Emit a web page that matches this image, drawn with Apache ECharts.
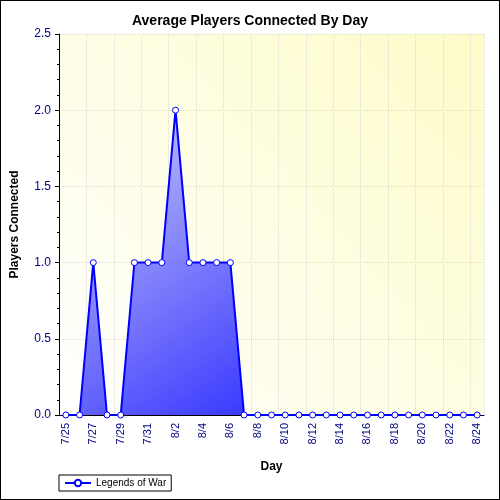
<!DOCTYPE html>
<html>
<head>
<meta charset="utf-8">
<script src="https://cdn.jsdelivr.net/npm/echarts@6/dist/echarts.min.js"></script>
<style>
html,body{margin:0;padding:0;background:#fff}
#c{width:498px;height:498px;border:1px solid #000}
</style>
</head>
<body>
<div id="c"></div>
<script>
var days = ['7/25','7/26','7/27','7/28','7/29','7/30','7/31','8/1','8/2','8/3','8/4','8/5','8/6','8/7',
  '8/8','8/9','8/10','8/11','8/12','8/13','8/14','8/15','8/16','8/17','8/18','8/19','8/20','8/21','8/22','8/23','8/24'];
var players = [0,0,1,0,0,1,1,1,2,1,1,1,1,0,0,0,0,0,0,0,0,0,0,0,0,0,0,0,0,0,0];
var yTicks = [0, 0.5, 1, 1.5, 2, 2.5];

var chart = echarts.init(document.getElementById('c'));
chart.setOption({
  animation: false,
  title: {
    text: 'Average Players Connected By Day', left: 'center', top: 8,
    textStyle: {fontFamily: 'Arial, Liberation Sans', fontSize: 14, fontWeight: 'bold', color: '#000'}
  },
  grid: {
    left: 56, right: 15, top: 33, bottom: 84,
    show: true, borderWidth: 0,
    backgroundColor: new echarts.graphic.LinearGradient(0, 1, 1, 0, [
      {offset: 0, color: '#ffffff'}, {offset: 1, color: '#fdfcc8'}])
  },
  legend: {
    left: 58, bottom: 8, itemWidth: 26, itemHeight: 8,
    borderColor: '#000', borderWidth: 1, borderRadius: 0, padding: [3, 5],
    textStyle: {fontFamily: 'Arial, Liberation Sans', fontSize: 10, color: '#000'},
    data: ['Legends of War']
  },
  xAxis: {
    type: 'category', data: days, boundaryGap: true,
    name: 'Day', nameLocation: 'middle', nameGap: 46,
    nameTextStyle: {fontFamily: 'Arial, Liberation Sans', fontSize: 12, fontWeight: 'bold', color: '#000'},
    axisLine: {lineStyle: {color: '#000'}},
    axisTick: {alignWithLabel: true, interval: 0, length: 3, lineStyle: {color: '#000'}},
    axisLabel: {interval: 1, rotate: 90, color: '#000080', fontFamily: 'Arial, Liberation Sans', fontSize: 11},
    splitLine: {show: true, interval: 1, lineStyle: {color: '#dcdcdc', type: 'dotted'}}
  },
  yAxis: {
    type: 'value', min: 0, max: 2.5, interval: 0.5,
    name: 'Players Connected', nameLocation: 'middle', nameGap: 38,
    nameTextStyle: {fontFamily: 'Arial, Liberation Sans', fontSize: 12, fontWeight: 'bold', color: '#000'},
    axisLine: {show: true, lineStyle: {color: '#000'}},
    axisTick: {show: true, length: 4, lineStyle: {color: '#000'}},
    minorTick: {show: true, splitNumber: 5, length: 2, lineStyle: {color: '#000'}},
    axisLabel: {color: '#000080', fontFamily: 'Arial, Liberation Sans', fontSize: 12,
      formatter: function (v) { return yTicks.indexOf(v) >= 0 ? v.toFixed(1) : ''; }},
    splitLine: {lineStyle: {color: '#dcdcdc', type: 'dotted'}}
  },
  series: [{
    name: 'Legends of War', type: 'line', data: players,
    symbol: 'circle', symbolSize: 6, showAllSymbol: true,
    lineStyle: {color: '#0000ff', width: 2},
    itemStyle: {color: '#ffffff', borderColor: '#0000ff', borderWidth: 1},
    areaStyle: {
      opacity: 1,
      color: new echarts.graphic.LinearGradient(0, 0, 0.5, 1, [
        {offset: 0, color: '#d0d0f8'}, {offset: 1, color: '#3333ff'}])
    }
  }]
});
</script>
</body>
</html>
